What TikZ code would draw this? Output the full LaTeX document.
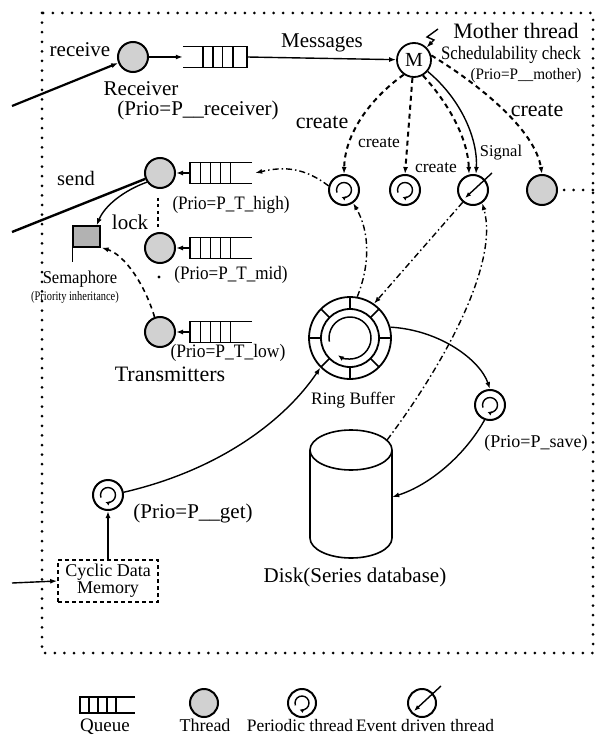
\documentclass[tikz,border=0pt]{standalone}
\usepackage{fontspec}
\setmainfont{Liberation Serif}
\usepackage{graphicx}
\usetikzlibrary{arrows.meta,calc}
\newcommand\fs[1]{\fontsize{#1}{#1}\selectfont}
\newcommand\cnd[2]{\scalebox{#1}[1]{#2}}
\newcommand\qR[1]{%
  \draw[qline] (#1.north west) -- (#1.north east) -- (#1.south east) -- (#1.south west);
  \foreach \f in {0.31,0.47,0.62,0.78}{\draw[qline] ($(#1.north west)!\f!(#1.north east)$) -- ($(#1.south west)!\f!(#1.south east)$);}}
\newcommand\qL[1]{%
  \draw[qline] (#1.north east) -- (#1.north west) -- (#1.south west) -- (#1.south east);
  \foreach \f in {0.17,0.33,0.49,0.65}{\draw[qline] ($(#1.north west)!\f!(#1.north east)$) -- ($(#1.south west)!\f!(#1.south east)$);}}
\newcommand\perarrow[2][7.5]{\draw[line width=1.4pt,-{Latex[length=4pt,width=4.5pt]}] ([shift={(200:#1)}]#2.center) arc[start angle=200,end angle=-110,radius=#1];}
\newcommand\evarrow[1]{\draw[line width=1.4pt,-{Latex[length=6pt,width=4.5pt]}] ([shift={(19,17)}]#1.center) -- ([shift={(-8,-8)}]#1.center);}
\begin{document}
\begin{tikzpicture}[x=1pt,y=1pt,
  tip/.style={-{Latex[length=7pt,width=5pt]}},
  conn/.style={line width=1.4pt},
  thr/.style={circle,draw,line width=2pt,fill=black!18,minimum size=30pt,inner sep=0pt},
  per/.style={circle,draw,line width=2pt,minimum size=30pt,inner sep=0pt},
  qbox/.style={draw=none,minimum width=62pt,minimum height=21pt,inner sep=0pt},
  qline/.style={line width=1.5pt},
  dashdot/.style={line width=1.4pt,dash pattern=on 6pt off 3pt on 1.5pt off 3pt},
  crt/.style={line width=2pt,dash pattern=on 5pt off 4pt},
  dotline/.style={line width=3pt,line cap=round,dash pattern=on 0pt off 9.6pt},
  lbl/.style={inner sep=0pt,font=\fs{20}},
]
\useasboundingbox (0,0) rectangle (596,-735);
% frame
\draw[dotline] (42,-13) rectangle (593,-653);

% receiver
\node[thr] (recv) at (133,-57) {};
\coordinate (rin) at (12,-106);
\draw[line width=2.2pt,tip] (rin) -- (recv);
\node[lbl,font=\fs{21}] (lrecv) at (80,-50) {receive};
\node[lbl,font=\fs{21}] (lreceiver) at (141,-89) {Receiver};
\node[lbl,font=\fs{21}] (lprecv) at (198,-110) {(Prio=P\_\_receiver)};
\node[qbox,minimum width=64pt] (q1) at (215,-57) {};
\qR{q1}
\draw[conn,tip] (recv) -- (q1.west);

% mother
\node[circle,draw,line width=1.8pt,minimum size=34pt,inner sep=0pt,font=\fs{20}] (M) at (414,-60) {M};
\draw[conn,tip] (q1.east) -- (M);
\node[lbl,font=\fs{21}] (lmsg) at (322,-43) {Messages};
\draw[conn,tip] (438,-29) -- (427,-37) -- (434,-40) -- (M.45);
\node[lbl,font=\fs{22}] (lmother) at (516,-31) {Mother thread};
\node[lbl,font=\fs{19}] (lsched) at (511,-55) {\cnd{0.88}{Schedulability check}};
\node[lbl,font=\fs{16}] (lpmother) at (526,-76) {\cnd{0.95}{(Prio=P\_\_mother)}};

% second row
\node[per] (p1) at (344,-190) {};
\perarrow{p1}
\node[per] (p2) at (405,-190) {};
\perarrow{p2}
\node[per] (ev) at (473,-190) {};
\evarrow{ev}
\node[thr] (t4) at (542,-190) {};
\coordinate (t4end) at (596,-190);
\draw[dotline] ([xshift=6pt]t4.east) -- (t4end);

\draw[crt,tip] (M.235) .. controls (375,-95) and (345,-130) .. (p1.north);
\node[lbl,font=\fs{22}] (lc1) at (322,-122) {create};
\draw[crt,tip] (M.265) -- (p2.north);
\node[lbl,font=\fs{17.5}] (lc2) at (379,-143) {create};
\draw[crt,tip] (M.300) .. controls (450,-105) and (468,-140) .. ([xshift=-4pt]ev.north);
\node[lbl,font=\fs{17.5}] (lc3) at (436,-168) {create};
\draw[conn,tip] (M.320) .. controls (462,-100) and (478,-140) .. ([xshift=3pt]ev.north);
\node[lbl,font=\fs{16.5}] (lsig) at (501,-153) {Signal};
\draw[crt,tip] (M.15) .. controls (480,-85) and (535,-130) .. (t4.north);
\node[lbl,font=\fs{22}] (lc4) at (537,-110) {create};

% transmitters
\node[thr] (th) at (160,-173) {};
\node[thr] (tm) at (160,-248) {};
\node[thr] (tl) at (160,-332) {};
\node[qbox] (qh) at (221,-173) {};
\node[qbox] (qm) at (221,-248) {};
\node[qbox] (ql) at (221,-332) {};
\qL{qh}\qL{qm}\qL{ql}
\draw[conn,tip] (qh.west) -- (th);
\draw[conn,tip] (qm.west) -- (tm);
\draw[conn,tip] (ql.west) -- (tl);
\draw[dashdot,tip] (p1.165) .. controls (305,-168) and (285,-166) .. ([xshift=3pt]qh.east);
\draw[line width=2.6pt,dash pattern=on 3pt off 3.5pt] (158,-198) -- (158,-228);
\fill (159,-277) circle[radius=1.6pt];
\node[lbl,font=\fs{19}] (lph) at (231,-205) {\cnd{0.9}{(Prio=P\_T\_high)}};
\node[lbl,font=\fs{19}] (lpm) at (231,-275) {\cnd{0.9}{(Prio=P\_T\_mid)}};
\node[lbl,font=\fs{19}] (lpl) at (228,-353) {\cnd{0.92}{(Prio=P\_T\_low)}};
\node[lbl,font=\fs{22}] (ltrans) at (170,-374) {Transmitters};
\node[lbl,font=\fs{21}] (llock) at (130,-222) {lock};
\node[lbl,font=\fs{20.5}] (lsend) at (76,-178) {send};
\coordinate (sin) at (12,-232);
\draw[line width=2.4pt] (sin) -- (th);

% semaphore
\node[draw,line width=1.3pt,fill=black!30,minimum width=27pt,minimum height=21pt,inner sep=0pt] (sem) at (86.5,-236.5) {};
\draw[line width=1.3pt] (sem.north west) -- ++(0,-37);
\draw[conn,tip] (th.215) .. controls (125,-190) and (105,-205) .. ([xshift=-4pt]sem.north east);
\draw[crt,line width=1.6pt,tip] (tl.110) .. controls (145,-285) and (125,-255) .. ([xshift=1pt]sem.south east);
\node[lbl,font=\fs{18}] (lsem) at (80,-279) {\cnd{0.92}{Semaphore}};
\node[lbl,font=\fs{13}] (lpi) at (75,-297) {\cnd{0.8}{(Priority inheritance)}};

% ring buffer
\node[circle,draw,line width=1.8pt,minimum size=82pt,inner sep=0pt] (ring) at (350,-338) {};
\draw[line width=1.8pt] (ring.center) circle[radius=29];
\foreach \a in {0,45,...,315}{\draw[line width=1.5pt] ([shift={(\a:29)}]ring.center) -- ([shift={(\a:41)}]ring.center);}
\draw[line width=1.5pt,-{Latex[length=6pt,width=5pt]}] ([shift={(190:21)}]ring.center) arc[start angle=190,end angle=-125,radius=21];
\node[lbl,font=\fs{17.5}] (lring) at (353,-400) {Ring Buffer};

\draw[dashdot,tip] (ev.230) -- (ring.55);
\draw[dashdot,tip] (ring.80) .. controls (370,-265) and (370,-232) .. (p1.-55);

% disk
\node[minimum width=82pt,minimum height=128pt,inner sep=0pt] (disk) at (351,-494) {};
\draw[line width=1.6pt] (351,-450) ellipse[x radius=41,y radius=20];
\draw[line width=1.6pt] (310,-450) -- (310,-538) arc[start angle=180,end angle=360,x radius=41,y radius=20] -- (392,-450);
\node[lbl,font=\fs{21}] (ldisk) at (355,-577) {Disk(Series database)};
\draw[dashdot,tip] ([shift={(-5,-10)}]disk.north east) .. controls (440,-370) and (500,-265) .. (ev.-55);

% save
\node[per] (sv) at (490,-405) {};
\perarrow{sv}
\draw[conn,tip] (ring.15) .. controls (440,-330) and (480,-360) .. (sv.north);
\draw[conn,tip] (sv.250) .. controls (465,-455) and (430,-485) .. ([yshift=-3pt]disk.east);
\node[lbl,font=\fs{18}] (lsave) at (536,-443) {(Prio=P\_save)};

% get
\node[per] (get) at (108,-495) {};
\perarrow{get}
\draw[conn,tip] (get.10) .. controls (220,-470) and (285,-420) .. (ring.225);
\node[lbl,font=\fs{21}] (lget) at (193,-513) {(Prio=P\_\_get)};
\node[draw,line width=1.6pt,dash pattern=on 4pt off 3pt,minimum width=100pt,minimum height=42pt,inner sep=0pt,align=center,font=\fs{18}] (cyc) at (108,-581) {Cyclic Data\\[-1pt]Memory};
\draw[conn,tip] (cyc.north) -- (get.south);
\coordinate (cin) at (12,-583);
\draw[conn,tip] (cin) -- (cyc.west);

% legend
\node[qbox,minimum width=55pt,minimum height=16pt] (qleg) at (107.5,-705) {};
\qL{qleg}
\node[thr,minimum size=28pt] (tleg) at (204,-703) {};
\node[per,minimum size=28pt] (pleg) at (302,-703) {};
\perarrow[7]{pleg}
\node[per,minimum size=28pt] (eleg) at (422,-703) {};
\evarrow{eleg}
\node[lbl,font=\fs{19},anchor=base] (lq) at (105,-731) {Queue};
\node[lbl,font=\fs{18},anchor=base] (lt) at (205,-731) {Thread};
\node[lbl,font=\fs{17.5},anchor=base] (lp) at (300,-731) {Periodic thread};
\node[lbl,font=\fs{17.5},anchor=base] (le) at (425,-731) {Event driven thread};
\end{tikzpicture}
\end{document}
